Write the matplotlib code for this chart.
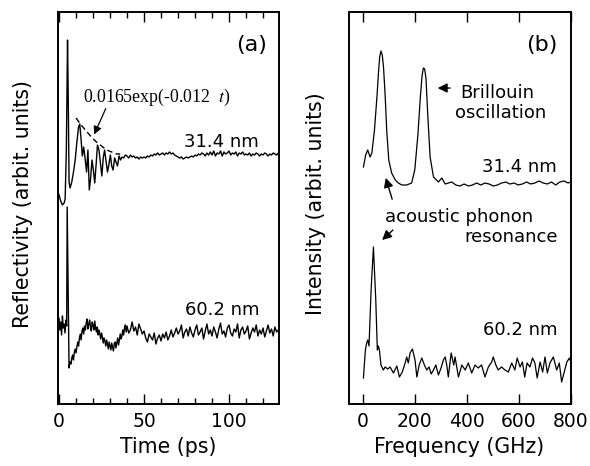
import numpy as np
import matplotlib.pyplot as plt
from matplotlib.ticker import MultipleLocator

plt.rcParams['font.family'] = ['DejaVu Sans']

# ---- (a) time domain, 31.4 nm film ----
t_thin_early = [-1, 0, 1, 2, 3, 3.6, 4.3, 5.0, 5.4, 5.9, 6.5, 7.5, 8.5, 9.5, 10.5, 11.5,
                12.2, 13, 13.7, 14.5, 15.3, 16.2, 17, 17.8, 18.6, 19.4, 20.2, 21, 21.8,
                22.6, 23.5, 24.3, 25.2, 26, 26.8, 27.6, 28.5, 29.3, 30.2, 31, 31.8, 32.7,
                33.5, 34.4, 35.3, 36.2, 37, 38, 39]
r_thin_early = [214, 209, 203, 199, 201, 205, 254, 364, 309, 222, 216, 222, 232, 244, 262, 277,
                280, 264, 248, 257, 246, 232, 254, 214, 226, 244, 234, 221, 239,
                259, 254, 242, 228, 246, 254, 244, 232, 239, 249, 238, 234, 246,
                242, 238, 248, 244, 247, 246, 249]
t_thin_late = np.arange(40, 131, 1)
r_thin_late = [248, 246, 249, 247, 248, 246, 247, 245, 247, 246,
               247, 246, 248, 247, 249, 248, 250, 249, 251, 249,
               250, 251, 249, 251, 250, 252, 250, 251, 249, 248,
               247, 246, 247, 245, 246, 247, 246, 247, 248, 247,
               249, 248, 250, 249, 251, 250, 248, 251, 249, 252,
               249, 253, 248, 251, 250, 253, 248, 252, 250, 251,
               253, 249, 251, 250, 252, 248, 251, 250, 252, 249,
               250, 249, 251, 248, 250, 249, 251, 250, 248, 250,
               249, 251, 250, 248, 250, 249, 251, 250, 249, 251,
               250]

# dashed envelope 0.0165exp(-0.012 t)
t_fit = [10, 13, 16, 19, 22, 25, 28, 31, 34, 36]
r_fit = [286, 279, 273, 267, 262, 258, 254, 252, 250, 250]

# ---- (a) time domain, 60.2 nm film ----
t_thick_early = [-1, -0.5, 0, 0.5, 1, 1.5, 2, 2.5, 3, 3.5, 4, 4.5, 4.8, 5.9]
r_thick_early = [84, 72, 86, 74, 82, 69, 88, 76, 80, 71, 84, 78, 197, 36]
t_thick_mid = np.arange(6.0, 40.0, 0.5)
r_thick_mid = [38, 42, 40, 46, 49, 44, 52, 55,
               51, 57, 62, 58, 66, 70, 64, 73,
               76, 70, 78, 74, 81, 85, 75, 80,
               84, 77, 73, 82, 79, 74, 83, 76,
               72, 77, 69, 74, 70, 65, 71, 67,
               61, 66, 63, 58, 64, 60, 55, 62,
               58, 54, 61, 57, 53, 60, 62, 56,
               61, 66, 59, 64, 70, 65, 68, 74,
               69, 76, 79, 72]
t_thick_late = np.arange(40, 131, 1)
r_thick_late = [78, 71, 74, 82, 73, 77, 69, 80, 75, 70,
                73, 66, 62, 70, 67, 64, 71, 60, 66, 69,
                63, 70, 66, 72, 64, 68, 74, 67, 71, 76,
                70, 73, 79, 66, 72, 75, 68, 77, 71, 67,
                74, 79, 69, 72, 76, 65, 73, 80, 70, 74,
                68, 77, 72, 66, 75, 81, 70, 73, 67, 76,
                79, 71, 68, 75, 72, 80, 66, 74, 77, 70,
                73, 78, 65, 71, 76, 72, 79, 68, 74, 70,
                76, 67, 73, 79, 71, 75, 68, 77, 72, 74,
                71]

# ---- (b) FFT spectra ----
f_thin = [2.5, 11, 19, 28, 35, 45, 55, 60, 65, 70, 75, 80, 86, 92, 100, 111, 125, 137, 150, 169,
          188, 200, 212, 222, 228, 233, 238, 243, 250, 259, 272, 291, 304, 317, 330, 342,
          358, 374, 390, 406, 422, 438, 454, 470, 486, 502, 518, 534, 550, 566, 582,
          598, 614, 630, 646, 662, 678, 694, 710, 726, 742, 758, 774, 790, 800]
i_thin = [237, 249, 254, 247, 251, 274, 309, 330, 347, 353, 349, 336, 309, 274, 244, 231, 224, 221, 219, 219,
          221, 234, 269, 309, 328, 336, 335, 326, 289, 247, 227, 222, 226, 220, 221, 222,
          219, 218, 220, 218, 219, 221, 219, 221, 220, 218, 219, 221, 222, 220, 221,
          219, 220, 222, 220, 221, 223, 221, 220, 222, 219, 222, 223, 221, 222]

f_thick = [2.5, 10, 15, 19, 24, 32, 41, 50, 56, 60, 64, 70, 79, 86, 96,
           105, 118, 131, 141, 152, 163, 169, 175, 182, 191, 201, 208, 217, 227, 237,
           246, 255, 263, 272, 281, 291, 301, 310, 317, 323, 329, 340, 350, 355, 368,
           381, 394, 406, 419, 432, 444, 457, 470, 483, 496, 502, 512, 521, 534, 547,
           560, 573, 585, 594, 605, 614, 623, 632, 643, 653, 662, 671, 682, 692, 701,
           710, 720, 733, 746, 756, 765, 774, 785, 795, 800]
i_thick = [26, 54, 61, 64, 58, 114, 157, 104, 54, 58, 54, 39, 34, 37, 35,
           37, 31, 38, 27, 32, 41, 47, 41, 51, 55, 44, 27, 39, 46, 39,
           34, 37, 30, 34, 39, 29, 36, 44, 47, 39, 27, 51, 39, 47, 27,
           39, 34, 41, 31, 39, 36, 39, 27, 37, 42, 47, 39, 34, 37, 34,
           32, 41, 34, 46, 37, 42, 27, 41, 37, 46, 41, 26, 42, 32, 47,
           31, 41, 47, 34, 41, 22, 31, 42, 46, 42]

fig = plt.figure(figsize=(5.9, 4.66), dpi=100)
ax1 = fig.add_axes([57.5 / 590, 62 / 466, 221.5 / 590, 392.5 / 466])
ax2 = fig.add_axes([349 / 590, 62 / 466, 222 / 590, 392.5 / 466])

# panel (a)
ax1.plot(np.concatenate([t_thin_early, t_thin_late]),
         np.concatenate([r_thin_early, r_thin_late]), color='k', lw=1.0)
ax1.plot(np.concatenate([t_thick_early, t_thick_mid, t_thick_late]),
         np.concatenate([r_thick_early, r_thick_mid, r_thick_late]), color='k', lw=1.0)
ax1.plot(t_fit, r_fit, color='k', lw=1.0, ls=(0, (4, 2.5)))
ax1.set_xlim(-0.9, 129.4)
ax1.set_ylim(0, 392.5)
ax1.xaxis.set_major_locator(MultipleLocator(50))
ax1.xaxis.set_minor_locator(MultipleLocator(10))
ax1.set_xlabel('Time (ps)', fontsize=14.8)
ax1.set_ylabel('Reflectivity (arbit. units)', fontsize=14.8)
ax1.xaxis.set_label_coords(0.5, -0.085)
ax1.yaxis.set_label_coords(-0.11, 0.51)

ax1.text(0.946, 0.915, '(a)', transform=ax1.transAxes, ha='right', va='center', fontsize=16)
ax1.text(0.115, 0.782, '0.0165exp(-0.012  $t$)', transform=ax1.transAxes, ha='left',
         va='center', fontsize=12.8, family='Liberation Serif', math_fontfamily='stix')
ax1.text(0.910, 0.667, '31.4 nm', transform=ax1.transAxes, ha='right', va='center', fontsize=13)
ax1.text(0.910, 0.239, '60.2 nm', transform=ax1.transAxes, ha='right', va='center', fontsize=13)
ax1.annotate('', xy=(0.160, 0.680), xytext=(0.223, 0.759), xycoords='axes fraction',
             arrowprops=dict(arrowstyle='-|>', color='k', lw=0.9, mutation_scale=12))

# panel (b)
ax2.plot(f_thin, i_thin, color='k', lw=0.9)
ax2.plot(f_thick, i_thick, color='k', lw=0.9)
ax2.set_xlim(-53, 801)
ax2.set_ylim(0, 392.5)
ax2.set_xticks([0, 200, 400, 600, 800])
ax2.set_xlabel('Frequency (GHz)', fontsize=14.8)
ax2.set_ylabel('Intensity (arbit. units)', fontsize=14.8)
ax2.xaxis.set_label_coords(0.495, -0.085)
ax2.yaxis.set_label_coords(-0.105, 0.51)

ax2.text(0.937, 0.915, '(b)', transform=ax2.transAxes, ha='right', va='center', fontsize=16)
ax2.text(0.50, 0.792, 'Brillouin', transform=ax2.transAxes, ha='left', va='center', fontsize=13)
ax2.text(0.477, 0.741, 'oscillation', transform=ax2.transAxes, ha='left', va='center', fontsize=13)
ax2.text(0.937, 0.604, '31.4 nm', transform=ax2.transAxes, ha='right', va='center', fontsize=13)
ax2.text(0.162, 0.476, 'acoustic phonon', transform=ax2.transAxes, ha='left', va='center', fontsize=13)
ax2.text(0.941, 0.425, 'resonance', transform=ax2.transAxes, ha='right', va='center', fontsize=13)
ax2.text(0.937, 0.189, '60.2 nm', transform=ax2.transAxes, ha='right', va='center', fontsize=13)
arrow = dict(arrowstyle='-|>', color='k', lw=1.0, mutation_scale=14)
ax2.annotate('', xy=(0.387, 0.805), xytext=(0.468, 0.805), xycoords='axes fraction', arrowprops=arrow)
ax2.annotate('', xy=(0.162, 0.583), xytext=(0.198, 0.515), xycoords='axes fraction', arrowprops=arrow)
ax2.annotate('', xy=(0.140, 0.413), xytext=(0.207, 0.448), xycoords='axes fraction', arrowprops=arrow)

for ax in (ax1, ax2):
    ax.set_yticks([])
    for s in ax.spines.values():
        s.set_linewidth(1.4)
    ax.tick_params(axis='x', which='both', direction='in', top=True, bottom=True,
                   labelsize=13.5, pad=6, width=1.0)
    ax.tick_params(axis='x', which='major', length=7)
    ax.tick_params(axis='x', which='minor', length=4.5)

fig.savefig('out.png', dpi=100)
